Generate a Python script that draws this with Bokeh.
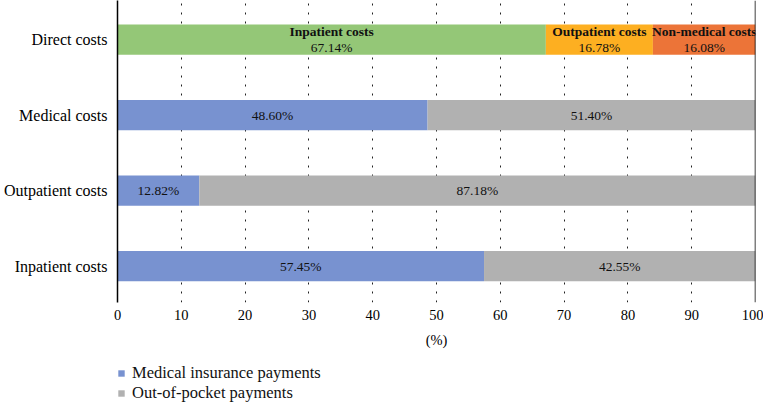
from bokeh.plotting import figure
from bokeh.layouts import column
from bokeh.models import (Range1d, FixedTicker, Span, Legend, LegendItem, ColumnDataSource)
from bokeh.core.properties import value
from bokeh.embed import file_html
from bokeh.resources import INLINE

# ---- data ----
categories = ["Inpatient costs", "Outpatient costs", "Medical costs", "Direct costs"]  # bottom -> top
payment_categories = ["Inpatient costs", "Outpatient costs", "Medical costs"]
insurance = [57.45, 12.82, 48.60]
out_of_pocket = [42.55, 87.18, 51.40]

direct_parts = ["Inpatient costs", "Outpatient costs", "Non-medical costs"]
direct_values = [67.14, 16.78, 16.08]

x_ticks = [0, 10, 20, 30, 40, 50, 60, 70, 80, 90, 100]

series_names = ["Medical insurance payments", "Out-of-pocket payments"]
colors_pay = ["#7892D0", "#B1B1B1"]
colors_direct = ["#94C777", "#FDAF21", "#EC7438"]

FONT = value("Liberation Serif")

pos = {c: i for i, c in enumerate(categories)}

TOTAL_W = 762

p = figure(frame_width=638, frame_height=302, output_backend="svg", toolbar_location=None,
           x_range=Range1d(0, 100), y_range=Range1d(-0.483, 3.517),
           min_border_left=116, min_border_right=8, min_border_top=0, min_border_bottom=58)
p.outline_line_color = None
p.background_fill_color = "white"

BAR_H = 0.4

# payments bars
ys = [pos[c] for c in payment_categories]
ins_src = ColumnDataSource(dict(y=ys, left=[0] * len(ys), right=insurance,
                                mid=[v / 2 for v in insurance],
                                lab=["%.2f%%" % v for v in insurance]))
oop_left = insurance
oop_right = [a + b for a, b in zip(insurance, out_of_pocket)]
oop_src = ColumnDataSource(dict(y=ys, left=oop_left, right=oop_right,
                                mid=[(a + b) / 2 for a, b in zip(oop_left, oop_right)],
                                lab=["%.2f%%" % v for v in out_of_pocket]))
p.hbar(y="y", left="left", right="right", height=BAR_H, source=ins_src,
       fill_color=colors_pay[0], line_color=None)
p.hbar(y="y", left="left", right="right", height=BAR_H, source=oop_src,
       fill_color=colors_pay[1], line_color=None)

for src in (ins_src, oop_src):
    p.text(x="mid", y="y", text="lab", source=src, text_font=FONT, text_font_size="13.5px",
           text_align="center", text_baseline="middle", text_color="#111111")

# direct costs bar
d_left = []
acc = 0
for v in direct_values:
    d_left.append(acc)
    acc += v
d_right = [l + v for l, v in zip(d_left, direct_values)]
dy = pos["Direct costs"]
d_src = ColumnDataSource(dict(y=[dy] * 3, left=d_left, right=d_right, color=colors_direct,
                              mid=[(l + r) / 2 for l, r in zip(d_left, d_right)],
                              name=direct_parts,
                              lab=["%.2f%%" % v for v in direct_values]))
p.hbar(y="y", left="left", right="right", height=BAR_H, source=d_src,
       fill_color="color", line_color=None)
p.text(x="mid", y="y", text="name", source=d_src, text_font=FONT, text_font_size="13.5px",
       text_font_style="bold", text_align="center", text_baseline="middle",
       text_color="#111111", y_offset=-8)
p.text(x="mid", y="y", text="lab", source=d_src, text_font=FONT, text_font_size="13.5px",
       text_align="center", text_baseline="middle", text_color="#111111", y_offset=8)

# right border line at 100
p.add_layout(Span(location=100, dimension="height", line_color="black", line_width=1.5))

# axes
p.xaxis.ticker = FixedTicker(ticks=x_ticks)
p.xaxis.axis_line_color = None
p.xaxis.major_tick_line_color = None
p.xaxis.minor_tick_line_color = None
p.xaxis.major_tick_out = 0
p.xaxis.major_tick_in = 0
p.xaxis.major_label_standoff = 7
p.xaxis.major_label_text_font = "Liberation Serif"
p.xaxis.major_label_text_font_size = "14.5px"
p.xaxis.major_label_text_color = "black"
p.xaxis.axis_label = "(%)"
p.xaxis.axis_label_text_font = "Liberation Serif"
p.xaxis.axis_label_text_font_style = "normal"
p.xaxis.axis_label_text_font_size = "14.5px"
p.xaxis.axis_label_text_color = "black"
p.xaxis.axis_label_standoff = 9

p.yaxis.ticker = FixedTicker(ticks=list(range(len(categories))))
p.yaxis.major_label_overrides = {i: c for i, c in enumerate(categories)}
p.yaxis.axis_line_color = "black"
p.yaxis.axis_line_width = 1.5
p.yaxis.major_tick_line_color = None
p.yaxis.minor_tick_line_color = None
p.yaxis.major_tick_out = 0
p.yaxis.major_tick_in = 0
p.yaxis.major_label_standoff = 10
p.yaxis.major_label_text_font = "Liberation Serif"
p.yaxis.major_label_text_font_size = "16px"
p.yaxis.major_label_text_color = "black"

# grid
p.ygrid.grid_line_color = None
p.xgrid.ticker = FixedTicker(ticks=x_ticks[1:-1])
p.xgrid.grid_line_color = "#222222"
p.xgrid.grid_line_dash = "2 7"
p.xgrid.grid_line_width = 1

# ---- legend strip (separate small figure below the chart, frame aligned with chart) ----
lg = figure(width=TOTAL_W, height=42, output_backend="svg", toolbar_location=None,
            x_range=Range1d(1000, 1001), y_range=Range1d(1000, 1001),
            min_border_left=0, min_border_right=0, min_border_top=0, min_border_bottom=0)
lg.axis.visible = False
lg.grid.visible = False
lg.outline_line_color = None
key_renderers = [
    lg.hbar(y="y", left="left", right="right", height=BAR_H, source=ins_src,
            fill_color=colors_pay[0], line_color=None),
    lg.hbar(y="y", left="left", right="right", height=BAR_H, source=oop_src,
            fill_color=colors_pay[1], line_color=None),
]
legend = Legend(items=[LegendItem(label=n, renderers=[r])
                       for n, r in zip(series_names, key_renderers)],
                location=(0, -1), orientation="vertical",
                glyph_width=8, glyph_height=8, label_height=18, spacing=0,
                padding=0, margin=0, label_standoff=7,
                label_text_font="Liberation Serif", label_text_font_size="16.5px",
                label_text_color="#111111",
                border_line_color=None, background_fill_alpha=0)
lg.add_layout(legend, "center")

layout = column(p, lg, spacing=0)
open("out.html", "w").write(file_html(layout, INLINE))
